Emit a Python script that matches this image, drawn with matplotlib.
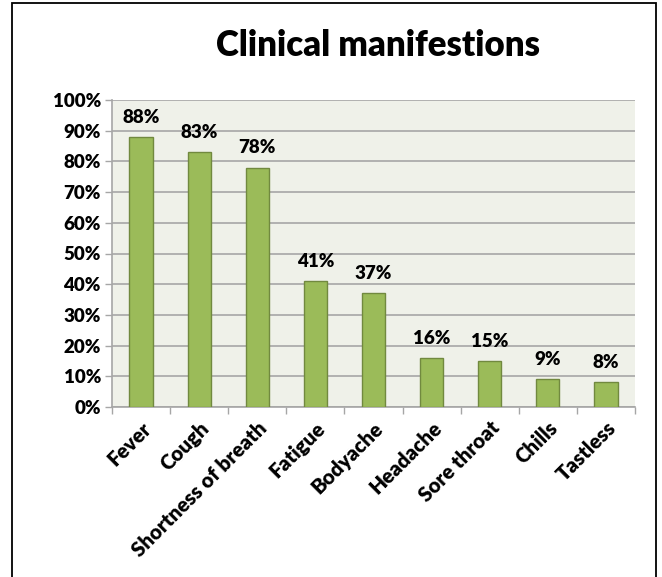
import matplotlib
matplotlib.use("Agg")
import matplotlib.pyplot as plt
import numpy as np
from matplotlib.patches import Rectangle

# Data
symptoms = ["Fever", "Cough", "Shortness of breath", "Fatigue", "Bodyache",
            "Headache", "Sore throat", "Chills", "Tastless"]
percent = [88, 83, 78, 41, 37, 16, 15, 9, 8]
y_ticks = [0, 10, 20, 30, 40, 50, 60, 70, 80, 90, 100]

BAR_COLOR = "#9BBB59"
EDGE_COLOR = "#71893F"
PLOT_BG = "#EFF1E9"
GRID_COLOR = "#A6A6A6"

plt.rcParams["font.family"] = ["Lato", "DejaVu Sans"]
plt.rcParams["font.weight"] = "bold"

W, H = 662, 577
fig = plt.figure(figsize=(W / 100, H / 100), dpi=100)

# Outer frame
fig.patches.append(Rectangle((12 / W, -0.01), (656 - 12) / W, (H - 3) / H + 0.01,
                             transform=fig.transFigure, fill=False,
                             edgecolor="black", linewidth=1.3))

ax = fig.add_axes([112 / W, 1 - 407 / H, (635 - 112) / W, (407 - 100) / H])
ax.set_facecolor(PLOT_BG)

x = np.arange(len(symptoms))
ax.bar(x, percent, width=0.4, color=BAR_COLOR, edgecolor=EDGE_COLOR,
       linewidth=1, zorder=3)

for xi, v in zip(x, percent):
    ax.annotate(f"{v}%", (xi, v), xytext=(0, 8), textcoords="offset points",
                ha="center", va="bottom", fontsize=13.5, fontweight="heavy")

ax.set_xlim(-0.5, len(symptoms) - 0.5)
ax.set_ylim(0, 100)
ax.set_yticks(y_ticks)
ax.set_yticklabels([f"{t}%" for t in y_ticks], fontsize=13.5, fontweight="heavy")
ax.yaxis.grid(True, color=GRID_COLOR, linewidth=1.2, zorder=0)
ax.set_axisbelow(True)

# Category ticks sit between bars; labels are centred under each bar
ax.set_xticks(np.arange(len(symptoms) + 1) - 0.5)
ax.set_xticklabels([])
ax.set_xticks(x, minor=True)
ax.set_xticklabels(symptoms, minor=True, rotation=45, ha="right",
                   rotation_mode="anchor", fontsize=14.8, fontweight="heavy")
ax.tick_params(axis="x", which="major", length=5, color=GRID_COLOR, width=1)
ax.tick_params(axis="x", which="minor", length=0, pad=8)
ax.tick_params(axis="y", length=5, color=GRID_COLOR, width=1, pad=3)

for side in ["top", "right"]:
    ax.spines[side].set_visible(False)
for side in ["left", "bottom"]:
    ax.spines[side].set_color(GRID_COLOR)
    ax.spines[side].set_linewidth(1.2)

fig.text(378 / W, 1 - 45 / H, "Clinical manifestions", ha="center", va="center",
         fontsize=25, fontweight="heavy")

fig.savefig("out.png", dpi=100)
